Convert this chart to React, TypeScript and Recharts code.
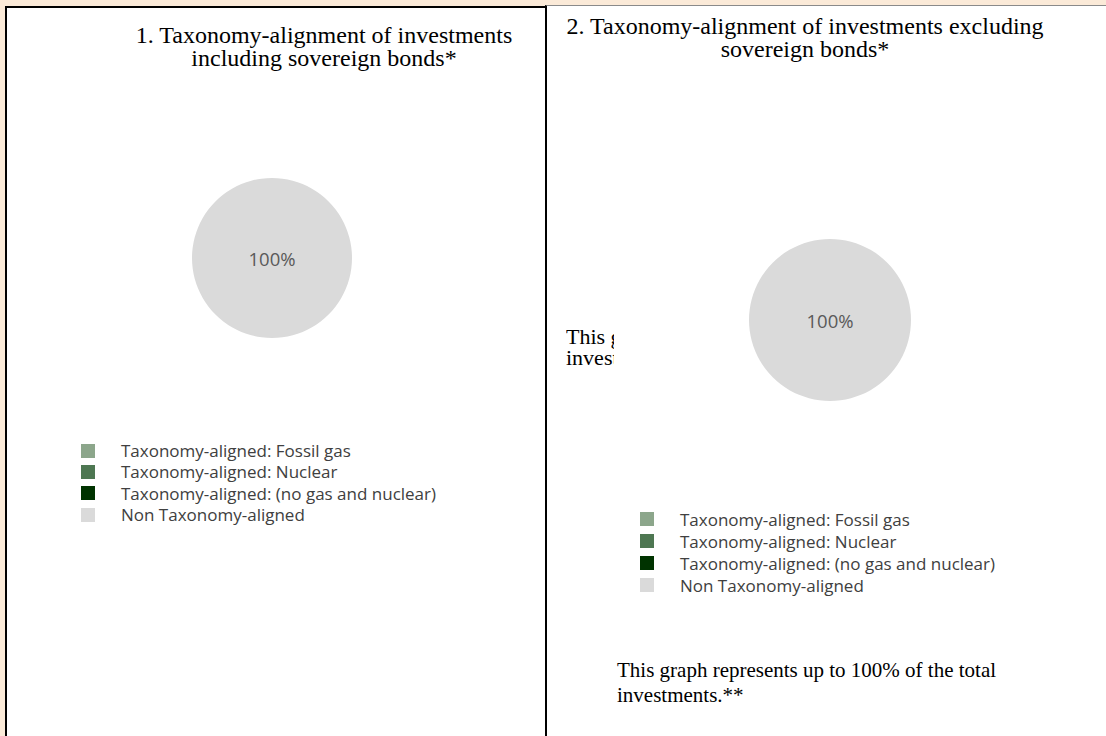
import React from 'react';
import { PieChart, Pie, Cell } from 'recharts';

const categories = [
  'Taxonomy-aligned: Fossil gas',
  'Taxonomy-aligned: Nuclear',
  'Taxonomy-aligned: (no gas and nuclear)',
  'Non Taxonomy-aligned',
];
const colors = ['#8CA68B', '#4E7752', '#003300', '#DADADA'];
const valuesIncludingSovereign = [0, 0, 0, 100];
const valuesExcludingSovereign = [0, 0, 0, 100];

const title1 = ['1. Taxonomy-alignment of investments', 'including sovereign bonds*'];
const title2 = ['2. Taxonomy-alignment of investments excluding', 'sovereign bonds*'];
const footnote = ['This graph represents up to 100% of the total', 'investments.**'];

const serif = '"Liberation Serif", "Times New Roman", serif';
const sans = '"Open Sans", "Liberation Sans", sans-serif';

const toData = (vals: number[]) => categories.map((name, i) => ({ name, value: vals[i] }));

const renderLabel = (props: any) => {
  const { cx, cy, value, percent } = props;
  if (!value) return null;
  return (
    <text x={cx} y={cy} textAnchor="middle" dominantBaseline="central" fill="#595959"
      style={{ fontFamily: sans, fontSize: 18.5 }}>
      {`${Math.round(percent * 100)}%`}
    </text>
  );
};

const PieBlock = ({ vals, left, top, r }: { vals: number[]; left: number; top: number; r: number }) => (
  <div style={{ position: 'absolute', left, top }}>
    <PieChart width={r * 2 + 20} height={r * 2 + 20} margin={{ top: 0, right: 0, bottom: 0, left: 0 }}>
      <Pie
        data={toData(vals)}
        dataKey="value"
        nameKey="name"
        cx={r + 10}
        cy={r + 10}
        outerRadius={r}
        startAngle={90}
        endAngle={-270}
        stroke="none"
        label={renderLabel}
        labelLine={false}
        isAnimationActive={false}
      >
        {categories.map((c, i) => (
          <Cell key={c} fill={colors[i]} stroke="none" />
        ))}
      </Pie>
    </PieChart>
  </div>
);

const LegendBlock = ({ left, top, row }: { left: number; top: number; row: number }) => (
  <div style={{ position: 'absolute', left, top }}>
    {categories.map((c, i) => (
      <div key={c} style={{ display: 'flex', alignItems: 'center', height: row }}>
        <div style={{ width: 14, height: 14, background: colors[i], marginRight: 26 }} />
        <span style={{ fontFamily: sans, fontSize: 17, color: '#404040', whiteSpace: 'nowrap' }}>{c}</span>
      </div>
    ))}
  </div>
);

const TextLines = ({ lines, left, top, width, size, lh, align }: any) => (
  <div style={{ position: 'absolute', left, top, width, fontFamily: serif, fontSize: size, lineHeight: `${lh}px`, textAlign: align, color: '#000', whiteSpace: 'nowrap' }}>
    {lines.map((l: string) => (
      <div key={l}>{l}</div>
    ))}
  </div>
);

export default function App() {
  return (
    <div style={{ position: 'absolute', left: 0, top: 0, width: 1106, height: 736, background: '#FBEAD8', overflow: 'hidden' }}>
      {/* left panel */}
      <div style={{ position: 'absolute', left: 5, top: 6, width: 545, height: 760, background: '#fff', border: '2px solid #000', boxSizing: 'border-box' }} />
      {/* right panel */}
      <div style={{ position: 'absolute', left: 545, top: 5, width: 620, height: 760, background: '#fff', borderLeft: '2px solid #000', borderTop: '1px solid #8a8a8a', boxSizing: 'border-box' }} />

      <TextLines lines={title1} left={124} top={24} width={400} size={24} lh={23} align="center" />
      <TextLines lines={title2} left={555} top={15} width={500} size={24} lh={23} align="center" />

      <PieBlock vals={valuesIncludingSovereign} left={182} top={168} r={80} />
      <LegendBlock left={81} top={440} row={21.3} />

      {/* text hidden behind the second chart */}
      <div style={{ position: 'absolute', left: 566, top: 326, width: 48, height: 52, overflow: 'hidden' }}>
        <TextLines lines={footnote} left={0} top={0} width={420} size={22} lh={21} align="left" />
      </div>
      <div style={{ position: 'absolute', left: 614, top: 230, width: 330, height: 180, background: '#fff' }} />

      <PieBlock vals={valuesExcludingSovereign} left={739} top={229} r={81} />
      <LegendBlock left={640} top={508} row={22} />

      <TextLines lines={footnote} left={617} top={658} width={430} size={21} lh={25} align="left" />
    </div>
  );
}
